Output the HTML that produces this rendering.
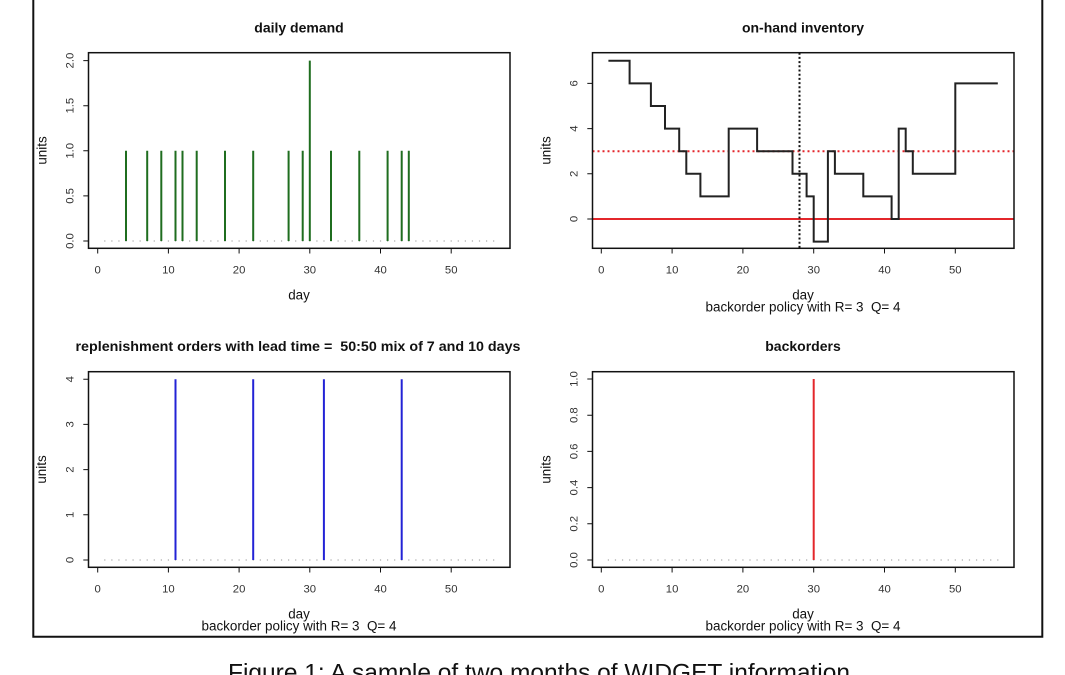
<!DOCTYPE html>
<html>
<head>
<meta charset="utf-8">
<style>
  html, body { margin:0; padding:0; background:#ffffff; }
  body { width:1065px; height:675px; overflow:hidden; }
  svg { display:block; }
  text { font-family: "Liberation Sans", Arial, sans-serif; white-space: pre; }
  .tick { font-size:11.3px; fill:#333; }
  .lab { font-size:13.4px; fill:#111; }
  .title { font-size:14px; font-weight:bold; fill:#111; }
</style>
</head>
<body>
<svg width="1065" height="675" viewBox="0 0 1065 675" xmlns="http://www.w3.org/2000/svg" xml:space="preserve">
  <rect x="0" y="0" width="1065" height="675" fill="#ffffff"/>

  <!-- outer frame -->
  <path d="M33.3,0 V636.7 H1042.3 V0" fill="none" stroke="#111" stroke-width="2"/>

  <!-- ================= TOP-LEFT: daily demand ================= -->
  <text class="title" x="299" y="32.3" text-anchor="middle">daily demand</text>
  <rect x="88.5" y="52.7" width="421.5" height="195.6" fill="none" stroke="#111" stroke-width="1.5"/>
  <line x1="104.2" y1="241" x2="494.5" y2="241" stroke="#aaa" stroke-width="1.2" stroke-dasharray="1.2 5.87"/>
  <path d="M126,241V150.8 M147.2,241V150.8 M161.3,241V150.8 M175.5,241V150.8 M182.5,241V150.8 M196.7,241V150.8 M225,241V150.8 M253.2,241V150.8 M288.6,241V150.8 M302.7,241V150.8 M309.8,241V60.6 M331,241V150.8 M359.3,241V150.8 M387.6,241V150.8 M401.7,241V150.8 M408.8,241V150.8" stroke="#1f6d1f" stroke-width="2" fill="none"/>
  <path d="M97.7,248.3V253.5 M168.4,248.3V253.5 M239.1,248.3V253.5 M309.8,248.3V253.5 M380.5,248.3V253.5 M451.2,248.3V253.5" stroke="#111" stroke-width="1"/>
  <g class="tick" text-anchor="middle">
    <text x="97.7" y="273.3">0</text>
    <text x="168.4" y="273.3">10</text>
    <text x="239.1" y="273.3">20</text>
    <text x="309.8" y="273.3">30</text>
    <text x="380.5" y="273.3">40</text>
    <text x="451.2" y="273.3">50</text>
  </g>
  <path d="M88.5,241H83.3 M88.5,195.9H83.3 M88.5,150.8H83.3 M88.5,105.7H83.3 M88.5,60.6H83.3" stroke="#111" stroke-width="1"/>
  <g class="tick" text-anchor="middle">
    <text transform="translate(73.3,241) rotate(-90)">0.0</text>
    <text transform="translate(73.3,195.9) rotate(-90)">0.5</text>
    <text transform="translate(73.3,150.8) rotate(-90)">1.0</text>
    <text transform="translate(73.3,105.7) rotate(-90)">1.5</text>
    <text transform="translate(73.3,60.6) rotate(-90)">2.0</text>
  </g>
  <text class="lab" transform="translate(46.7,150.5) rotate(-90)" text-anchor="middle">units</text>
  <text class="lab" x="299" y="299.5" text-anchor="middle">day</text>

  <!-- ================= TOP-RIGHT: on-hand inventory ================= -->
  <text class="title" x="803" y="32.3" text-anchor="middle">on-hand inventory</text>
  <line x1="592.5" y1="219" x2="1014" y2="219" stroke="#e3262b" stroke-width="2"/>
  <line x1="592.5" y1="151.2" x2="1014" y2="151.2" stroke="#e3262b" stroke-width="2" stroke-dasharray="2 3"/>
  <line x1="799.5" y1="52.7" x2="799.5" y2="248.3" stroke="#111" stroke-width="2" stroke-dasharray="2 2.2"/>
  <path d="M608.4,60.8 H629.6 V83.4 H650.9 V106 H665 V128.6 H679.2 V151.2 H686.3 V173.8 H700.4 V196.4 H728.7 V128.6 H757.1 V151.2 H792.5 V173.8 H806.6 V196.4 H813.7 V241.6 H827.9 V151.2 H834.9 V173.8 H863.3 V196.4 H891.6 V219 H898.7 V128.6 H905.7 V151.2 H912.8 V173.8 H955.3 V83.4 H997.8" fill="none" stroke="#222" stroke-width="2"/>
  <rect x="592.5" y="52.7" width="421.5" height="195.6" fill="none" stroke="#111" stroke-width="1.5"/>
  <path d="M601.3,248.3V253.5 M672.1,248.3V253.5 M742.9,248.3V253.5 M813.7,248.3V253.5 M884.5,248.3V253.5 M955.3,248.3V253.5" stroke="#111" stroke-width="1"/>
  <g class="tick" text-anchor="middle">
    <text x="601.3" y="273.3">0</text>
    <text x="672.1" y="273.3">10</text>
    <text x="742.9" y="273.3">20</text>
    <text x="813.7" y="273.3">30</text>
    <text x="884.5" y="273.3">40</text>
    <text x="955.3" y="273.3">50</text>
  </g>
  <path d="M592.5,219H587.3 M592.5,173.8H587.3 M592.5,128.6H587.3 M592.5,83.4H587.3" stroke="#111" stroke-width="1"/>
  <g class="tick" text-anchor="middle">
    <text transform="translate(577.3,219) rotate(-90)">0</text>
    <text transform="translate(577.3,173.8) rotate(-90)">2</text>
    <text transform="translate(577.3,128.6) rotate(-90)">4</text>
    <text transform="translate(577.3,83.4) rotate(-90)">6</text>
  </g>
  <text class="lab" transform="translate(550.7,150.5) rotate(-90)" text-anchor="middle">units</text>
  <text class="lab" x="803" y="299.5" text-anchor="middle">day</text>
  <text class="lab" x="803" y="311.5" text-anchor="middle" textLength="195" lengthAdjust="spacingAndGlyphs">backorder policy with R= 3  Q= 4</text>

  <!-- ================= BOTTOM-LEFT: replenishment ================= -->
  <text class="title" x="298" y="350.8" text-anchor="middle" textLength="445" lengthAdjust="spacingAndGlyphs">replenishment orders with lead time =  50:50 mix of 7 and 10 days</text>
  <rect x="88.5" y="371.7" width="421.5" height="195.6" fill="none" stroke="#111" stroke-width="1.5"/>
  <line x1="104.2" y1="560" x2="494.5" y2="560" stroke="#aaa" stroke-width="1.2" stroke-dasharray="1.2 5.87"/>
  <path d="M175.5,560V379.2 M253.2,560V379.2 M323.9,560V379.2 M401.7,560V379.2" stroke="#2323d6" stroke-width="2" fill="none"/>
  <path d="M97.7,567.3V572.5 M168.4,567.3V572.5 M239.1,567.3V572.5 M309.8,567.3V572.5 M380.5,567.3V572.5 M451.2,567.3V572.5" stroke="#111" stroke-width="1"/>
  <g class="tick" text-anchor="middle">
    <text x="97.7" y="592.3">0</text>
    <text x="168.4" y="592.3">10</text>
    <text x="239.1" y="592.3">20</text>
    <text x="309.8" y="592.3">30</text>
    <text x="380.5" y="592.3">40</text>
    <text x="451.2" y="592.3">50</text>
  </g>
  <path d="M88.5,560H83.3 M88.5,514.8H83.3 M88.5,469.6H83.3 M88.5,424.4H83.3 M88.5,379.2H83.3" stroke="#111" stroke-width="1"/>
  <g class="tick" text-anchor="middle">
    <text transform="translate(73.3,560) rotate(-90)">0</text>
    <text transform="translate(73.3,514.8) rotate(-90)">1</text>
    <text transform="translate(73.3,469.6) rotate(-90)">2</text>
    <text transform="translate(73.3,424.4) rotate(-90)">3</text>
    <text transform="translate(73.3,379.2) rotate(-90)">4</text>
  </g>
  <text class="lab" transform="translate(46.2,469.5) rotate(-90)" text-anchor="middle">units</text>
  <text class="lab" x="299" y="618.5" text-anchor="middle">day</text>
  <text class="lab" x="299" y="630.5" text-anchor="middle" textLength="195" lengthAdjust="spacingAndGlyphs">backorder policy with R= 3  Q= 4</text>

  <!-- ================= BOTTOM-RIGHT: backorders ================= -->
  <text class="title" x="803" y="350.8" text-anchor="middle">backorders</text>
  <rect x="592.5" y="371.7" width="421.5" height="195.6" fill="none" stroke="#111" stroke-width="1.5"/>
  <line x1="607.8" y1="560" x2="998.5" y2="560" stroke="#aaa" stroke-width="1.2" stroke-dasharray="1.2 5.88"/>
  <line x1="813.7" y1="560" x2="813.7" y2="379" stroke="#e3262b" stroke-width="2"/>
  <path d="M601.3,567.3V572.5 M672.1,567.3V572.5 M742.9,567.3V572.5 M813.7,567.3V572.5 M884.5,567.3V572.5 M955.3,567.3V572.5" stroke="#111" stroke-width="1"/>
  <g class="tick" text-anchor="middle">
    <text x="601.3" y="592.3">0</text>
    <text x="672.1" y="592.3">10</text>
    <text x="742.9" y="592.3">20</text>
    <text x="813.7" y="592.3">30</text>
    <text x="884.5" y="592.3">40</text>
    <text x="955.3" y="592.3">50</text>
  </g>
  <path d="M592.5,560H587.3 M592.5,523.8H587.3 M592.5,487.6H587.3 M592.5,451.4H587.3 M592.5,415.2H587.3 M592.5,379H587.3" stroke="#111" stroke-width="1"/>
  <g class="tick" text-anchor="middle">
    <text transform="translate(577.3,560) rotate(-90)">0.0</text>
    <text transform="translate(577.3,523.8) rotate(-90)">0.2</text>
    <text transform="translate(577.3,487.6) rotate(-90)">0.4</text>
    <text transform="translate(577.3,451.4) rotate(-90)">0.6</text>
    <text transform="translate(577.3,415.2) rotate(-90)">0.8</text>
    <text transform="translate(577.3,379) rotate(-90)">1.0</text>
  </g>
  <text class="lab" transform="translate(550.7,469.5) rotate(-90)" text-anchor="middle">units</text>
  <text class="lab" x="803" y="618.5" text-anchor="middle">day</text>
  <text class="lab" x="803" y="630.5" text-anchor="middle" textLength="195" lengthAdjust="spacingAndGlyphs">backorder policy with R= 3  Q= 4</text>

  <!-- caption -->
  <text x="228" y="680.5" font-size="24" fill="#111" textLength="622" lengthAdjust="spacingAndGlyphs">Figure 1: A sample of two months of WIDGET information</text>
</svg>
</body>
</html>
